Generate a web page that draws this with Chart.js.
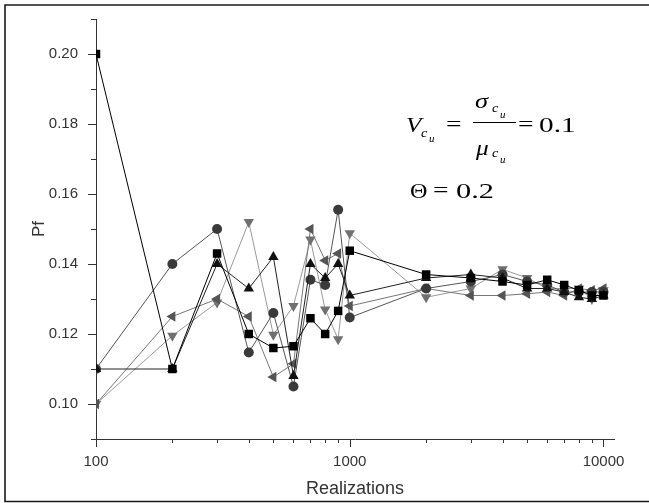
<!DOCTYPE html>
<html>
<head>
<meta charset="utf-8">
<script src="https://cdn.jsdelivr.net/npm/chart.js@4/dist/chart.umd.min.js"></script>
<style>
html,body{margin:0;padding:0;background:#fff;}
canvas{display:block;}
</style>
</head>
<body>
<canvas id="c" width="649" height="503"></canvas>
<script>
// ---- data ----
const realizations = [100,200,300,400,500,600,700,800,900,1000,2000,3000,4000,5000,6000,7000,8000,9000,10000];
const squares  = [0.200,0.110,0.143,0.120,0.116,0.1165,0.1245,0.120,0.1266,0.1438,0.137,0.136,0.135,0.134,0.1355,0.134,0.1325,0.131,0.131];
const upTri    = [0.110,0.110,0.140,0.133,0.142,0.108,0.140,0.136,0.140,0.131,0.136,0.137,0.136,0.133,0.133,0.132,0.1305,0.130,0.131];
const circles  = [0.110,0.140,0.150,0.1147,0.126,0.105,0.1355,0.134,0.1555,0.1247,0.133,0.135,0.137,0.135,0.134,0.132,0.132,0.132,0.132];
const downTri  = [0.100,0.1195,0.129,0.152,0.1198,0.128,0.147,0.127,0.1185,0.1488,0.1305,0.133,0.1385,0.136,0.133,0.133,0.133,0.130,0.1325];
const leftTri  = [0.100,0.125,0.130,0.125,0.1077,0.1115,0.150,0.141,0.143,0.128,0.133,0.131,0.131,0.1315,0.132,0.131,0.133,0.1325,0.133];

const xTickValues = [100,200,300,400,500,600,700,800,900,1000,2000,3000,4000,5000,6000,7000,8000,9000,10000];
const xLabelValues = [100,1000,10000];
const yLabelValues = [0.10,0.12,0.14,0.16,0.18,0.20];
const yMinorValues = [0.09,0.11,0.13,0.15,0.17,0.19,0.21];

function pts(arr){ return realizations.map((x,i)=>({x:x,y:arr[i]})); }

function ds(label, arr, style, rot, fill, line, r){
  return {label, data:pts(arr), pointStyle:style, rotation:rot, pointRadius:r, pointHoverRadius:r,
    pointBackgroundColor:fill, pointBorderColor:fill, pointBorderWidth:0,
    borderColor:line, borderWidth:1, tension:0, showLine:true};
}

const framePlugin = {
  id:'frame',
  beforeDraw(chart){
    const ctx = chart.ctx;
    ctx.save();
    ctx.strokeStyle = '#1a1a1a';
    ctx.lineWidth = 1.6;
    ctx.beginPath();
    ctx.moveTo(649,5); ctx.lineTo(5,5); ctx.lineTo(5,501.5); ctx.lineTo(649,501.5);
    ctx.stroke();
    ctx.restore();
  }
};

const tickPlugin = {
  id:'ticks2',
  afterDraw(chart){
    const ctx = chart.ctx, xs = chart.scales.x, ys = chart.scales.y;
    const a = chart.chartArea;
    ctx.save();
    ctx.strokeStyle = '#333';
    ctx.lineWidth = 1;
    xTickValues.forEach(v=>{
      const px = Math.round(xs.getPixelForValue(v))+0.5;
      const len = xLabelValues.includes(v) ? 8 : 4;
      ctx.beginPath(); ctx.moveTo(px,a.bottom); ctx.lineTo(px,a.bottom+len); ctx.stroke();
    });
    yLabelValues.forEach(v=>{
      const py = Math.round(ys.getPixelForValue(v))+0.5;
      ctx.beginPath(); ctx.moveTo(a.left,py); ctx.lineTo(a.left-8,py); ctx.stroke();
    });
    yMinorValues.forEach(v=>{
      const py = Math.round(ys.getPixelForValue(v))+0.5;
      ctx.beginPath(); ctx.moveTo(a.left,py); ctx.lineTo(a.left-5,py); ctx.stroke();
    });
    ctx.restore();
  }
};

function txt(ctx, s, x, y, font, sx){
  ctx.save();
  ctx.font = font;
  ctx.translate(x,y);
  ctx.scale(sx||1,1);
  ctx.fillText(s,0,0);
  ctx.restore();
}

const mathPlugin = {
  id:'math',
  afterDraw(chart){
    const ctx = chart.ctx;
    ctx.save();
    ctx.fillStyle = '#000';
    ctx.textAlign = 'left';
    ctx.textBaseline = 'alphabetic';
    const big = '22px "Liberation Serif"', bigI = 'italic 22px "Liberation Serif"';
    const sub = 'italic 13px "Liberation Serif"', sub2 = 'italic 10px "Liberation Serif"';
    txt(ctx,'V',406,132,bigI,1.15);
    txt(ctx,'c',421,137,sub,1.1);
    txt(ctx,'u',429,142,sub2,1.1);
    txt(ctx,'=',446,131,big,1.25);
    txt(ctx,'\u03C3',475,108,bigI,1.2);
    txt(ctx,'c',492,112,sub,1.1);
    txt(ctx,'u',500,118,sub2,1.1);
    ctx.strokeStyle='#000'; ctx.lineWidth=1.2;
    ctx.beginPath(); ctx.moveTo(473,122.5); ctx.lineTo(516,122.5); ctx.stroke();
    txt(ctx,'\u03BC',476,155,bigI,1.15);
    txt(ctx,'c',492,157,sub,1.1);
    txt(ctx,'u',500,163,sub2,1.1);
    txt(ctx,'=',518,131,big,1.25);
    txt(ctx,'0.1',539,132,big,1.33);
    txt(ctx,'\u0398',410,198,big,1.1);
    txt(ctx,'=',433,197,big,1.25);
    txt(ctx,'0.2',456,198,big,1.38);
    ctx.restore();
  }
};

new Chart(document.getElementById('c'), {
  type:'line',
  data:{
    datasets:[
      ds('squares', squares, 'rect', 0, '#000', '#000', 6),
      ds('upTri', upTri, 'triangle', 0, '#111', '#222', 6),
      ds('circles', circles, 'circle', 0, '#3a3a3a', '#555', 5),
      ds('leftTri', leftTri, 'triangle', 270, '#555', '#777', 6),
      ds('downTri', downTri, 'triangle', 180, '#707070', '#999', 6)
    ]
  },
  options:{
    responsive:false,
    animation:false,
    devicePixelRatio:1,
    layout:{padding:{top:19,right:35,left:0,bottom:0}},
    plugins:{legend:{display:false},tooltip:{enabled:false}},
    scales:{
      x:{
        type:'logarithmic', min:100, max:11000,
        afterFit(s){ s.height = 64; },
        afterBuildTicks(s){ s.ticks = xLabelValues.map(v=>({value:v})); },
        grid:{display:false},
        border:{display:true,color:'#333',width:1},
        ticks:{autoSkip:false,maxRotation:0,padding:6,color:'#333',
          font:{family:'"Liberation Sans"',size:15},
          callback:(v)=>String(v)},
        title:{display:true,text:'Realizations',color:'#333',
          font:{family:'"Liberation Sans"',size:18},padding:{top:0,bottom:3}}
      },
      y:{
        type:'linear', min:0.09, max:0.21,
        afterFit(s){ s.width = 96; },
        afterBuildTicks(s){ s.ticks = yLabelValues.map(v=>({value:v})); },
        grid:{display:false},
        border:{display:true,color:'#333',width:1},
        ticks:{autoSkip:false,padding:10,color:'#333',
          font:{family:'"Liberation Sans"',size:15},
          callback:(v)=>Number(v).toFixed(2)},
        title:{display:true,text:'Pf',color:'#333',
          font:{family:'"Liberation Sans"',size:17},padding:{top:29,bottom:0}}
      }
    }
  },
  plugins:[framePlugin,tickPlugin,mathPlugin]
});
</script>
</body>
</html>
